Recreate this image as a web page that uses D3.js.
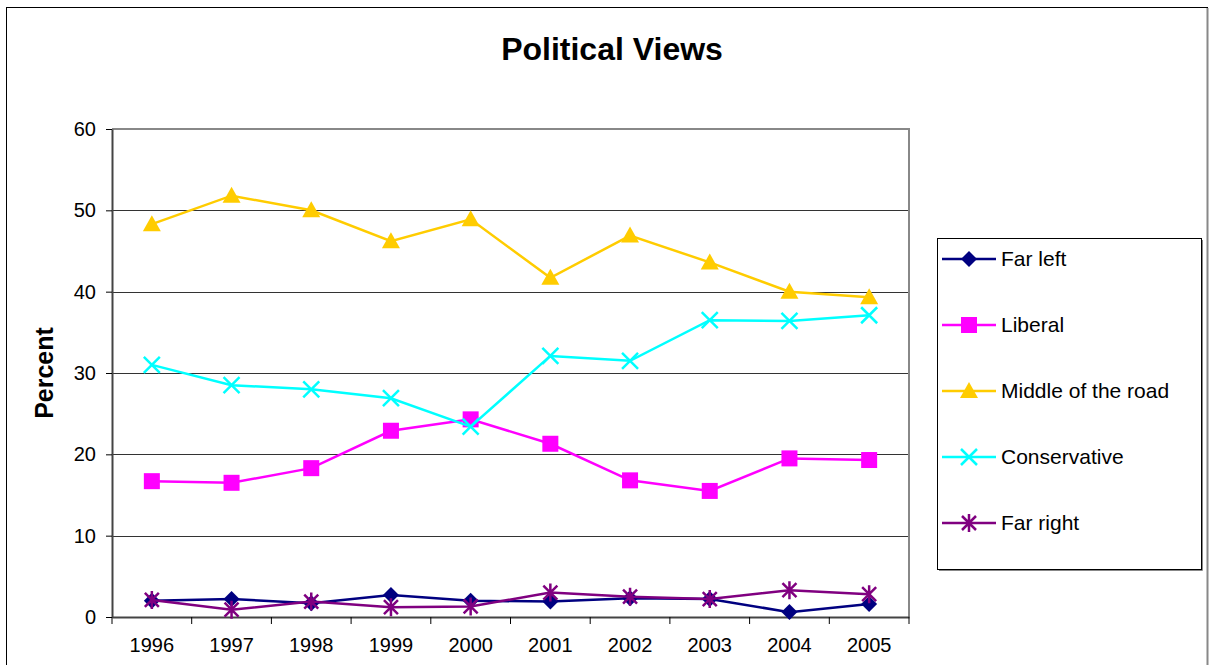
<!DOCTYPE html>
<html>
<head>
<meta charset="utf-8">
<script src="https://cdn.jsdelivr.net/npm/d3@7"></script>
<style>
  body { margin: 0; background: #fff; }
  svg { font-family: "Liberation Sans", Arial, sans-serif; }
</style>
</head>
<body>
<div class="chart"></div>
<script>
const years = ["1996", "1997", "1998", "1999", "2000", "2001", "2002", "2003", "2004", "2005"];
const farLeft = [2.0, 2.2, 1.7, 2.7, 2.0, 1.9, 2.3, 2.2, 0.6, 1.6];
const liberal = [16.7, 16.5, 18.3, 22.9, 24.3, 21.3, 16.8, 15.5, 19.5, 19.3];
const middle = [48.3, 51.8, 50.0, 46.2, 48.9, 41.7, 46.9, 43.6, 40.0, 39.3];
const conservative = [31.0, 28.5, 28.0, 26.9, 23.4, 32.1, 31.5, 36.5, 36.4, 37.1];
const farRight = [2.1, 0.9, 1.9, 1.2, 1.3, 3.0, 2.5, 2.2, 3.3, 2.8];
const yTicks = [0, 10, 20, 30, 40, 50, 60];

const series = [
  {name: "Far left", values: farLeft, color: "#000080", marker: "diamond"},
  {name: "Liberal", values: liberal, color: "#ff00ff", marker: "square"},
  {name: "Middle of the road", values: middle, color: "#ffcc00", marker: "triangle"},
  {name: "Conservative", values: conservative, color: "#00ffff", marker: "x"},
  {name: "Far right", values: farRight, color: "#800080", marker: "star"}
];

let svg = d3.select(".chart").append("svg").attr("width", 1209).attr("height", 665),
    margin = {top: 129, left: 112, right: 300, bottom: 48},
    width = 1209 - margin.left - margin.right,
    height = 665 - margin.top - margin.bottom;

// outer chart frame
svg.append("rect").attr("x", 6.5).attr("y", 7.5).attr("width", 1201).attr("height", 700)
  .attr("fill", "none").attr("stroke", "#000").attr("stroke-width", 1);
svg.append("line").attr("x1", 1207.5).attr("x2", 1207.5).attr("y1", 8).attr("y2", 665)
  .attr("stroke", "#888").attr("stroke-width", 2);

svg.append("text").attr("x", 612).attr("y", 60).attr("text-anchor", "middle")
  .attr("font-size", 32).attr("font-weight", "bold").text("Political Views");

let g = svg.append("g").attr("transform", `translate(${margin.left},${margin.top})`);

let x = d3.scaleBand().domain(years).range([0, width]);
let y = d3.scaleLinear().domain([0, 60]).range([height, 0]);

// gridlines
g.selectAll(".grid").data(yTicks.slice(1, -1)).enter().append("line")
  .attr("x1", 0).attr("x2", width)
  .attr("y1", d => Math.round(y(d)) + 0.5).attr("y2", d => Math.round(y(d)) + 0.5)
  .attr("stroke", "#333").attr("stroke-width", 1);

// plot frame top/right
g.append("path").attr("d", `M0,${y(60)}H${width}V${height}`)
  .attr("fill", "none").attr("stroke", "#888").attr("stroke-width", 2);

// y axis
let yAxis = g.append("g")
  .call(d3.axisLeft(y).tickValues(yTicks).tickSize(6).tickSizeOuter(0).tickPadding(10));
yAxis.select(".domain").attr("stroke", "#444").attr("stroke-width", 2);
yAxis.selectAll(".tick line").attr("stroke", "#000");
yAxis.selectAll("text").attr("font-size", 20).attr("fill", "#000");

// x axis
let xAxis = g.append("g").attr("transform", `translate(0,${height})`)
  .call(d3.axisBottom(x).tickSize(0).tickPadding(21));
xAxis.select(".domain").attr("stroke", "#444").attr("stroke-width", 2);
xAxis.selectAll("text").attr("font-size", 20).attr("fill", "#000");
xAxis.selectAll(".bound").data(years.map(d => x(d)).concat([width])).enter().append("line")
  .attr("x1", d => d).attr("x2", d => d).attr("y1", 0).attr("y2", 7)
  .attr("stroke", "#000").attr("stroke-width", 1);

svg.append("text").attr("transform", "translate(53,373) rotate(-90)")
  .attr("text-anchor", "middle").attr("font-size", 25).attr("font-weight", "bold").text("Percent");

function drawMarker(sel, type, color) {
  if (type === "diamond") {
    sel.append("path").attr("d", "M0,-8L8,0L0,8L-8,0Z").attr("fill", color);
  } else if (type === "square") {
    sel.append("rect").attr("x", -8).attr("y", -8).attr("width", 16).attr("height", 16).attr("fill", color);
  } else if (type === "triangle") {
    sel.append("path").attr("d", "M0,-9L9,7L-9,7Z").attr("fill", color);
  } else if (type === "x") {
    sel.append("path").attr("d", "M-8,-8L8,8M8,-8L-8,8").attr("stroke", color).attr("stroke-width", 2.5);
  } else if (type === "star") {
    sel.append("path").attr("d", "M-7,-7L7,7M7,-7L-7,7M0,-9V9")
      .attr("stroke", color).attr("stroke-width", 2.5);
  }
}

let line = d3.line()
  .x((d, i) => x(years[i]) + x.bandwidth() / 2)
  .y(d => y(d));

series.forEach(s => {
  g.append("path").datum(s.values).attr("d", line)
    .attr("fill", "none").attr("stroke", s.color).attr("stroke-width", 2.5);
  s.values.forEach((v, i) => {
    let m = g.append("g").attr("transform", `translate(${x(years[i]) + x.bandwidth() / 2},${y(v)})`);
    drawMarker(m, s.marker, s.color);
  });
});

// legend
let legend = svg.append("g").attr("transform", "translate(937,238)");
legend.append("rect").attr("x", 0.5).attr("y", 0.5).attr("width", 264).attr("height", 331)
  .attr("fill", "#fff").attr("stroke", "#000").attr("stroke-width", 1);
legend.append("path").attr("d", "M265.5,2V332.5H2").attr("fill", "none").attr("stroke", "#888").attr("stroke-width", 1);

series.forEach((s, i) => {
  let row = legend.append("g").attr("transform", `translate(0,${21 + i * 66})`);
  row.append("line").attr("x1", 5).attr("x2", 59).attr("stroke", s.color).attr("stroke-width", 2.5);
  drawMarker(row.append("g").attr("transform", "translate(32,0)"), s.marker, s.color);
  row.append("text").attr("x", 64).attr("y", 7).attr("font-size", 21).text(s.name);
});
</script>
</body>
</html>
